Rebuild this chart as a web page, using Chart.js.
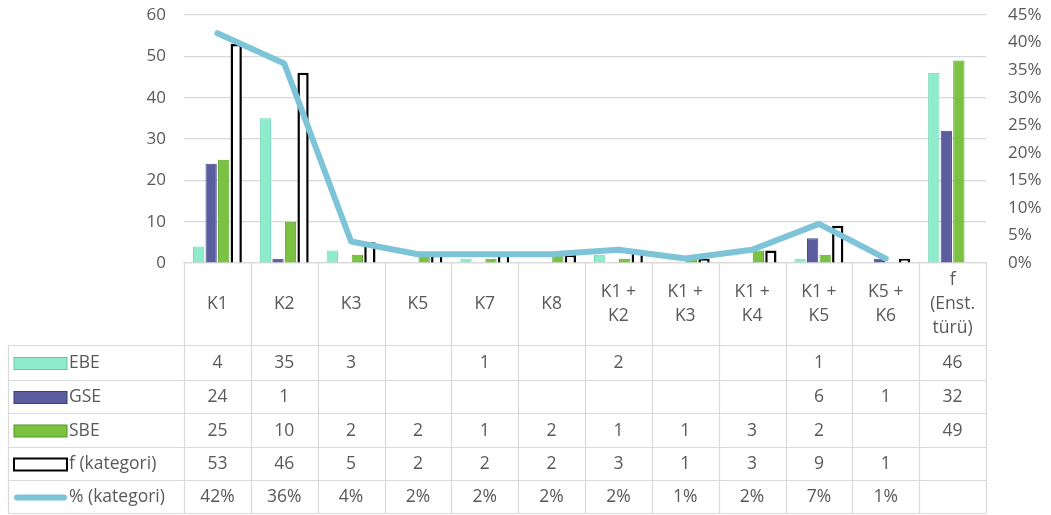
<!DOCTYPE html>
<html>
<head>
<meta charset="utf-8">
<script src="https://cdn.jsdelivr.net/npm/chart.js@4.4.1/dist/chart.umd.min.js"></script>
<style>
html,body{margin:0;padding:0;background:#fff}
#wrap{width:1051px;height:515px;position:relative}
</style>
</head>
<body>
<div id="wrap"><canvas id="chart"></canvas></div>
<script>
// categories (multi-line header cells of the data table)
const categories = [["K1"],["K2"],["K3"],["K5"],["K7"],["K8"],["K1 +","K2"],["K1 +","K3"],["K1 +","K4"],["K1 +","K5"],["K5 +","K6"],["f","(Enst.","türü)"]];
const ebe = [4,35,3,null,1,null,2,null,null,1,null,46];
const gse = [24,1,null,null,null,null,null,null,null,6,1,32];
const sbe = [25,10,2,2,1,2,1,1,3,2,null,49];
const fKategori = [53,46,5,2,2,2,3,1,3,9,1,null];
const pctKategori = [41.7,36.2,3.9,1.6,1.6,1.6,2.4,0.8,2.4,7.1,0.8,null];
const leftTicks = [0,10,20,30,40,50,60];
const rightTicks = [0,5,10,15,20,25,30,35,40,45];

const FONT = "'Open Sans', Lato, sans-serif";
const TXT = "#595959";
const GRID = "#d9d9d9";

const colors = {
  ebe: "#8eeccc",
  gse: "#5b5e9e",
  sbe: "#7cc242",
  line: "#7ec4d8"
};

// table rows: label, values, key style
const tableRows = [
  {label: "EBE", values: ebe, key: "bar", fill: colors.ebe, stroke: "#5fc9a6"},
  {label: "GSE", values: gse, key: "bar", fill: colors.gse, stroke: "#3d3f7a"},
  {label: "SBE", values: sbe, key: "bar", fill: colors.sbe, stroke: "#4e9a22"},
  {label: "f (kategori)", values: fKategori, key: "bar", fill: "#ffffff", stroke: "#000000"},
  {label: "% (kategori)", values: pctKategori.map(v => v == null ? null : Math.round(v) + "%"), key: "line", stroke: colors.line}
];

const dataTable = {
  id: "dataTable",
  afterDraw(chart) {
    const ctx = chart.ctx;
    const x = chart.scales.x;
    const half = (x.getPixelForValue(1) - x.getPixelForValue(0)) / 2;
    const left = x.getPixelForValue(0) - half;
    const right = x.getPixelForValue(categories.length - 1) + half;
    const top = chart.chartArea.bottom;
    const headerBottom = 345;
    const rowEdges = [345, 380, 413, 447, 480, 513];
    const legendLeft = 8;

    ctx.save();
    ctx.strokeStyle = GRID;
    ctx.lineWidth = 1.2;
    // horizontal lines
    ctx.beginPath();
    rowEdges.forEach(y => { ctx.moveTo(legendLeft, y + 0.5); ctx.lineTo(right, y + 0.5); });
    ctx.stroke();
    // vertical lines
    ctx.beginPath();
    for (let i = 0; i <= categories.length; i++) {
      const xx = Math.round(left + i * 2 * half) + 0.5;
      ctx.moveTo(xx, top);
      ctx.lineTo(xx, rowEdges[rowEdges.length - 1]);
    }
    ctx.moveTo(legendLeft + 0.5, headerBottom);
    ctx.lineTo(legendLeft + 0.5, rowEdges[rowEdges.length - 1]);
    ctx.stroke();

    // header text
    ctx.fillStyle = TXT;
    ctx.font = "17.5px " + FONT;
    ctx.textAlign = "center";
    ctx.textBaseline = "middle";
    const hMid = (top + headerBottom) / 2;
    categories.forEach((lines, i) => {
      const cx = x.getPixelForValue(i);
      const lh = 24;
      const y0 = hMid - (lines.length - 1) * lh / 2;
      lines.forEach((t, j) => ctx.fillText(t, cx, y0 + j * lh));
    });

    // rows
    tableRows.forEach((row, r) => {
      const yMid = (rowEdges[r] + rowEdges[r + 1]) / 2 + 1;
      // key
      if (row.key === "bar") {
        ctx.fillStyle = row.fill;
        ctx.fillRect(14, yMid - 6, 53, 12);
        ctx.strokeStyle = row.stroke;
        ctx.lineWidth = row.fill === "#ffffff" ? 2 : 1;
        ctx.strokeRect(14, yMid - 6, 53, 12);
      } else {
        ctx.strokeStyle = row.stroke;
        ctx.lineWidth = 6;
        ctx.lineCap = "round";
        ctx.beginPath();
        ctx.moveTo(17, yMid);
        ctx.lineTo(64, yMid);
        ctx.stroke();
      }
      ctx.fillStyle = TXT;
      ctx.textAlign = "left";
      ctx.fillText(row.label, 69, yMid);
      ctx.textAlign = "center";
      row.values.forEach((v, i) => {
        if (v == null) return;
        ctx.fillText(String(v), x.getPixelForValue(i), yMid);
      });
    });
    ctx.restore();
  }
};

new Chart(document.getElementById("chart"), {
  type: "bar",
  data: {
    labels: categories,
    datasets: [
      {
        type: "line",
        label: "% (kategori)",
        data: pctKategori,
        yAxisID: "y1",
        borderColor: colors.line,
        borderWidth: 6,
        borderCapStyle: "round",
        borderJoinStyle: "round",
        pointRadius: 0,
        tension: 0,
        order: 0
      },
      {label: "EBE", data: ebe, backgroundColor: colors.ebe, borderColor: "#6fd8b4", borderWidth: 1, order: 1},
      {label: "GSE", data: gse, backgroundColor: colors.gse, borderColor: "#46488a", borderWidth: 1, order: 1},
      {label: "SBE", data: sbe, backgroundColor: colors.sbe, borderColor: "#5aa52c", borderWidth: 1, order: 1},
      {label: "f (kategori)", data: fKategori, backgroundColor: "#ffffff", borderColor: "#000000", borderWidth: 2.5, order: 1}
    ]
  },
  options: {
    responsive: true,
    maintainAspectRatio: false,
    animation: false,
    datasets: {
      bar: {categoryPercentage: 0.75, barPercentage: 0.9}
    },
    layout: {padding: {top: 15, bottom: 252, left: 0, right: 0}},
    plugins: {
      legend: {display: false},
      tooltip: {enabled: false}
    },
    scales: {
      x: {
        grid: {display: false},
        ticks: {display: false},
        border: {display: true, color: GRID, width: 1.2},
        afterFit(scale) { scale.height = 0; }
      },
      y: {
        position: "left",
        min: 0,
        max: 60,
        afterBuildTicks(scale) { scale.ticks = leftTicks.map(v => ({value: v})); },
        ticks: {color: TXT, font: {size: 17, family: FONT}, padding: 18},
        grid: {color: GRID, lineWidth: 1.2, drawTicks: false},
        border: {display: false},
        afterFit(scale) { scale.width = 184; scale.paddingTop = 0; scale.paddingBottom = 0; }
      },
      y1: {
        position: "right",
        min: 0,
        max: 45,
        afterBuildTicks(scale) { scale.ticks = rightTicks.map(v => ({value: v})); },
        ticks: {
          color: TXT,
          font: {size: 17, family: FONT},
          padding: 22,
          crossAlign: "near",
          callback: v => v + "%"
        },
        grid: {drawOnChartArea: false, drawTicks: false},
        border: {display: false},
        afterFit(scale) { scale.width = 65; scale.paddingTop = 0; scale.paddingBottom = 0; }
      }
    }
  },
  plugins: [dataTable]
});
</script>
</body>
</html>
